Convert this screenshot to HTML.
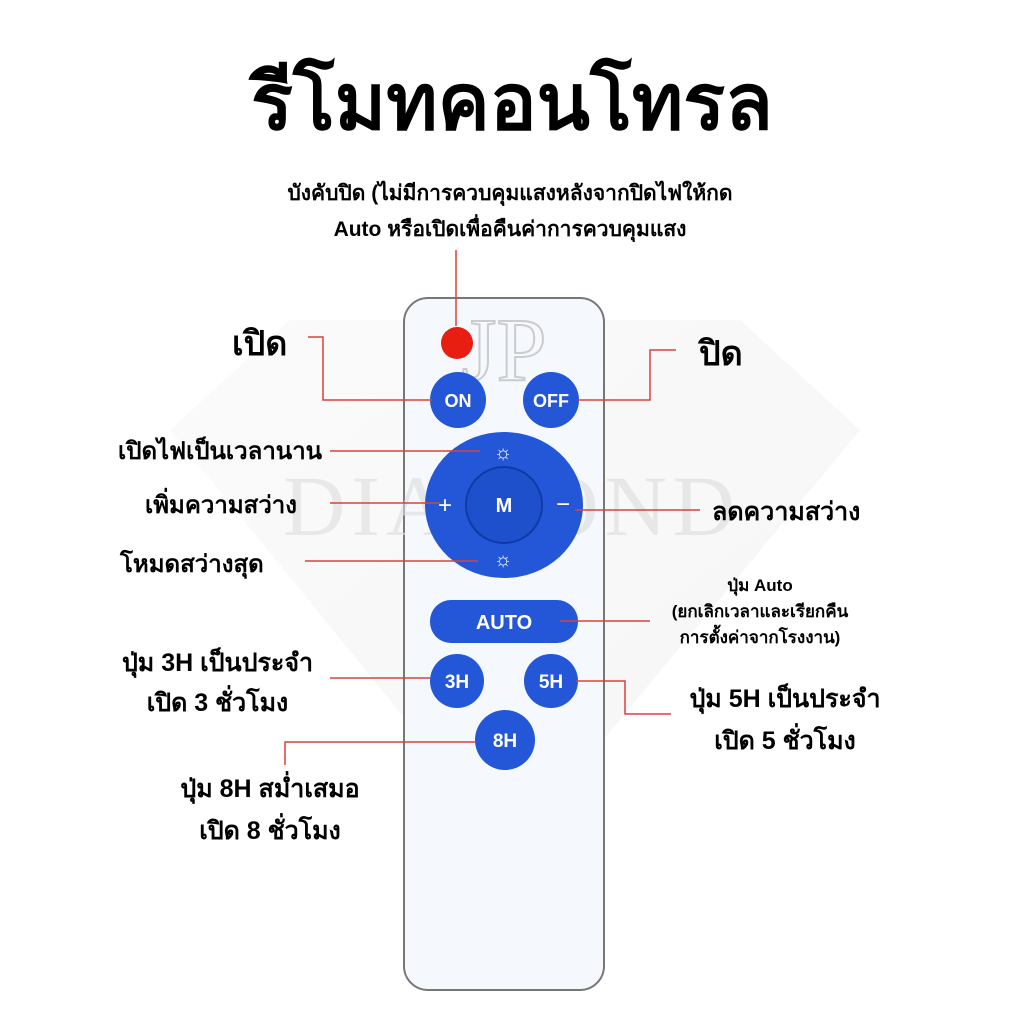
<!DOCTYPE html>
<html><head><meta charset="utf-8"><style>
body{margin:0;width:1024px;height:1024px;background:#fff;position:relative;overflow:hidden;font-family:"Liberation Sans","DejaVu Sans",sans-serif;}
.t{position:absolute;color:#000;font-weight:bold;white-space:nowrap;text-align:center;}
svg{position:absolute;left:0;top:0}
</style></head><body>
<svg width="1024" height="1024">
<defs><linearGradient id="bg" x1="0" y1="0" x2="1" y2="1"><stop offset="0" stop-color="#f6f6f6"/><stop offset="1" stop-color="#ececec"/></linearGradient></defs>
<polygon points="170,430 290,320 740,320 860,430 512,850" fill="url(#bg)" opacity="0.5"/>
<rect x="404" y="298" width="200" height="692" rx="24" fill="#f5f8fd" stroke="#777" stroke-width="2"/>
<text x="504" y="380" font-family="Liberation Serif" font-size="90" fill="none" stroke="#ccc" stroke-width="2" text-anchor="middle">JP</text>
<text x="512" y="535" font-family="Liberation Serif" font-size="86" fill="#dcdcdc" fill-opacity="0.6" text-anchor="middle" letter-spacing="6">DIAMOND</text>
<circle cx="457" cy="343" r="16" fill="#e81e10"/>
<g fill="#2357d8"><circle cx="458" cy="400" r="28"/><circle cx="551" cy="400" r="28"/>
<ellipse cx="504" cy="505" rx="79" ry="73"/>
<rect x="430" y="600" width="148" height="43" rx="21"/>
<circle cx="457" cy="681" r="27"/><circle cx="551" cy="681" r="27"/><circle cx="505" cy="740" r="30"/></g>
<circle cx="504" cy="505" r="38" fill="#1f50cc" stroke="#0f3aa8" stroke-width="2"/>
<g fill="#fff" font-weight="bold" font-family="Liberation Sans" text-anchor="middle">
<text x="458" y="407" font-size="18">ON</text><text x="551" y="407" font-size="18">OFF</text>
<text x="504" y="512" font-size="20">M</text><text x="445" y="513" font-size="24" font-weight="normal">+</text><text x="563" y="512" font-size="24" font-weight="normal">−</text>
<text x="503" y="459" font-size="20">☼</text><text x="503" y="566" font-size="20">☼</text>
<text x="504" y="629" font-size="20">AUTO</text>
<text x="457" y="688" font-size="19">3H</text><text x="551" y="688" font-size="19">5H</text><text x="505" y="747" font-size="19">8H</text></g>
<g stroke="#d8423c" stroke-width="1.5" fill="none">
<polyline points="456,250 456,326"/>
<polyline points="308,337 323,337 323,400 432,400"/>
<polyline points="578,400 650,400 650,350 676,350"/>
<line x1="330" y1="451" x2="480" y2="451"/>
<line x1="330" y1="503" x2="440" y2="503"/>
<line x1="575" y1="510" x2="700" y2="510"/>
<line x1="305" y1="561" x2="478" y2="561"/>
<line x1="560" y1="621" x2="650" y2="621"/>
<line x1="330" y1="678" x2="430" y2="678"/>
<polyline points="576,681 625,681 625,714 671,714"/>
<polyline points="285,765 285,742 476,742"/>
</g>
</svg>
<div class="t" style="left:0;width:1024px;top:40px;font-size:78px;">รีโมทคอนโทรล</div>
<div class="t" style="left:230px;width:560px;top:176px;font-size:21px;line-height:36px;">บังคับปิด (ไม่มีการควบคุมแสงหลังจากปิดไฟให้กด<br>Auto หรือเปิดเพื่อคืนค่าการควบคุมแสง</div>
<div class="t" style="left:232px;top:316px;font-size:34px;">เปิด</div>
<div class="t" style="left:699px;top:326px;font-size:34px;">ปิด</div>
<div class="t" style="left:118px;top:431px;font-size:24px;">เปิดไฟเป็นเวลานาน</div>
<div class="t" style="left:145px;top:485px;font-size:24px;">เพิ่มความสว่าง</div>
<div class="t" style="left:712px;top:492px;font-size:25px;">ลดความสว่าง</div>
<div class="t" style="left:120px;top:544px;font-size:24px;">โหมดสว่างสุด</div>
<div class="t" style="left:662px;width:196px;top:573px;font-size:17px;line-height:26px;">ปุ่ม Auto<br>(ยกเลิกเวลาและเรียกคืน<br>การตั้งค่าจากโรงงาน)</div>
<div class="t" style="left:105px;width:225px;top:643px;font-size:25px;line-height:40px;">ปุ่ม 3H เป็นประจำ<br>เปิด 3 ชั่วโมง</div>
<div class="t" style="left:675px;width:220px;top:678px;font-size:25px;line-height:42px;">ปุ่ม 5H เป็นประจำ<br>เปิด 5 ชั่วโมง</div>
<div class="t" style="left:160px;width:220px;top:768px;font-size:25px;line-height:42px;">ปุ่ม 8H สม่ำเสมอ<br>เปิด 8 ชั่วโมง</div>
</body></html>
